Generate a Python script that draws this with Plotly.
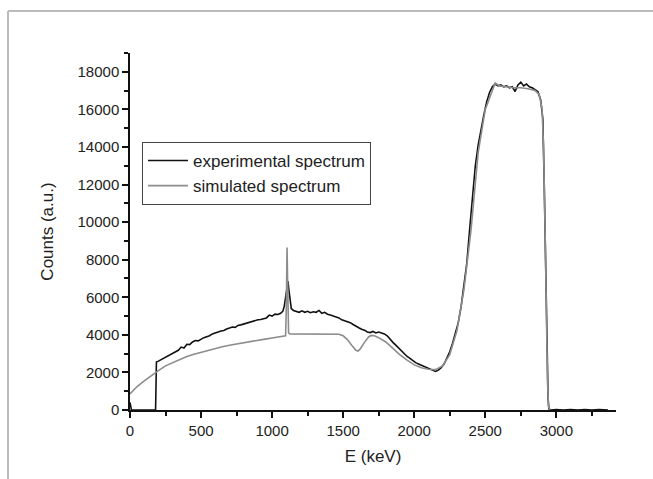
import plotly.graph_objects as go

# Experimental spectrum (keV, counts)
exp_e = [0, 5, 10, 180, 186, 200, 220, 240, 260, 280, 300, 320, 340, 360, 380, 400, 420, 440, 460, 480,
         500, 520, 540, 560, 580, 600, 620, 640, 660, 680, 700, 720, 740, 760, 780, 800, 820, 840, 860, 880,
         900, 920, 940, 960, 980, 1000, 1020, 1040, 1060, 1075, 1085, 1095, 1105, 1112, 1118, 1125, 1135, 1150,
         1170, 1190, 1210, 1230, 1250, 1270, 1290, 1310, 1330, 1350, 1370, 1390, 1410, 1430, 1450, 1470, 1490,
         1510, 1530, 1550, 1570, 1590, 1610, 1630, 1650, 1670, 1690, 1710, 1730, 1750, 1770, 1790, 1810, 1830,
         1850, 1870, 1890, 1910, 1930, 1950, 1970, 1990, 2010, 2030, 2050, 2070, 2090, 2110, 2130, 2150, 2170,
         2190, 2210, 2230, 2250, 2270, 2290, 2310, 2330, 2350, 2370, 2390, 2410, 2430, 2450, 2470, 2490, 2510,
         2530, 2550, 2570, 2590, 2610, 2630, 2650, 2670, 2690, 2710, 2730, 2750, 2770, 2790, 2810, 2830, 2850,
         2870, 2890, 2905, 2915, 2925, 2935, 2942, 2948, 2960, 3000, 3050, 3100, 3150, 3200, 3250, 3300, 3364]
exp_counts = [400, 200, 0, 0, 2550, 2600, 2680, 2750, 2850, 2900, 3020, 3100, 3180, 3350, 3300, 3500, 3480, 3620, 3700, 3680,
              3780, 3850, 3900, 3950, 4050, 4080, 4150, 4200, 4230, 4310, 4350, 4420, 4400, 4500, 4530, 4580, 4620, 4650, 4700, 4760,
              4800, 4820, 4880, 4900, 5050, 5000, 5100, 5080, 5150, 5250, 5500, 6000, 6700, 6850, 6400, 5800, 5400, 5300,
              5250, 5200, 5280, 5200, 5250, 5180, 5230, 5200, 5300, 5150, 5200, 5100, 5050, 5000, 4950, 4900, 4800,
              4750, 4700, 4650, 4550, 4450, 4380, 4300, 4250, 4150, 4120, 4180, 4100, 4150, 4120, 4050, 3950, 3750,
              3600, 3450, 3300, 3150, 2980, 2850, 2750, 2620, 2520, 2450, 2380, 2300, 2220, 2150, 2100, 2050, 2120,
              2250, 2450, 2750, 3100, 3550, 4100, 4650, 5500, 6600, 7800, 9600, 11500, 13000, 14100, 15000, 15700, 16400,
              16900, 17200, 17350, 17250, 17300, 17200, 17250, 17150, 17200, 16950, 17300, 17450, 17250, 17350, 17200, 17150, 17050,
              16950, 16500, 15500, 12000, 7000, 2500, 600, 50, 0, 20, 0, 30, 0, 25, 0, 20, 0]

# Simulated spectrum (keV, counts)
sim_e = [0, 25, 50, 100, 150, 200, 250, 300, 350, 400, 450, 500, 550, 600, 650, 700, 750, 800, 850, 900,
         950, 1000, 1050, 1095, 1100, 1105, 1110, 1116, 1125, 1200, 1300, 1400, 1470, 1500, 1530, 1560, 1590,
         1605, 1620, 1650, 1680, 1700, 1720, 1750, 1800, 1850, 1900, 1950, 2000, 2050, 2100, 2150, 2200, 2250,
         2300, 2350, 2400, 2450, 2500, 2550, 2570, 2600, 2650, 2700, 2750, 2800, 2850, 2880, 2900, 2910, 2920,
         2930, 2938, 2945, 2955]
sim_counts = [850, 1050, 1250, 1550, 1850, 2100, 2350, 2530, 2700, 2850, 2970, 3080, 3180, 3280, 3370, 3450, 3520, 3590, 3650, 3710,
              3770, 3830, 3890, 3950, 5500, 8650, 6500, 4100, 4050, 4050, 4050, 4050, 4030, 3950, 3750, 3450, 3180,
              3140, 3250, 3600, 3900, 3970, 3950, 3850, 3620, 3280, 2930, 2650, 2400, 2250, 2170, 2150, 2350, 2950,
              4200, 6400, 9600, 13700, 16000, 17000, 17400, 17250, 17200, 17150, 17150, 17100, 17000, 16800, 16000, 14000, 10000,
              5000, 1500, 200, 0]

x_title = "E (keV)"
y_title = "Counts (a.u.)"

font_family = "Liberation Sans, Arial, sans-serif"

fig = go.Figure()
fig.add_trace(go.Scatter(x=exp_e, y=exp_counts, mode="lines", name="experimental spectrum",
                         line=dict(color="#111111", width=1.6)))
fig.add_trace(go.Scatter(x=sim_e, y=sim_counts, mode="lines", name="simulated spectrum",
                         line=dict(color="#8c8c8c", width=1.6)))

axis_common = dict(showgrid=False, zeroline=False, showline=True, linecolor="#111111", linewidth=1.5,
                   ticks="outside", ticklen=6, tickwidth=1.5, tickcolor="#111111", tickformat="d",
                   tickfont=dict(family=font_family, size=15, color="#222222"))

fig.update_layout(
    width=653, height=479,
    margin=dict(l=130, r=37, t=53, b=69, autoexpand=False),
    paper_bgcolor="white", plot_bgcolor="white",
    font=dict(family=font_family, color="#222222"),
    xaxis=dict(range=[0, 3420], dtick=500, tick0=0,
               title=dict(text=x_title, font=dict(size=17), standoff=12),
               minor=dict(dtick=250, ticklen=4, tickwidth=1.5, tickcolor="#111111", ticks="outside"),
               **axis_common),
    yaxis=dict(range=[0, 19000], dtick=2000, tick0=0,
               title=dict(text=y_title, font=dict(size=17), standoff=20),
               minor=dict(dtick=1000, ticklen=4, tickwidth=1.5, tickcolor="#111111", ticks="outside"),
               **axis_common),
    legend=dict(x=0.0247, y=0.7507, xanchor="left", yanchor="top",
                bordercolor="#444444", borderwidth=1, bgcolor="white",
                font=dict(family=font_family, size=17, color="#222222"),
                tracegroupgap=0, itemwidth=40),
    showlegend=True,
)

# light grey outer frame (top and left edges)
fig.add_shape(type="line", xref="paper", yref="paper", x0=-0.251, x1=1.1, y0=1.1176, y1=1.1176,
              line=dict(color="#bbbbbb", width=2))
fig.add_shape(type="line", xref="paper", yref="paper", x0=-0.251, x1=-0.251, y0=1.1176, y1=-0.25,
              line=dict(color="#bbbbbb", width=2))

fig.write_html("out.html", config={"displayModeBar": False},
               post_script="document.body.style.margin='0';document.body.style.overflow='hidden';")
